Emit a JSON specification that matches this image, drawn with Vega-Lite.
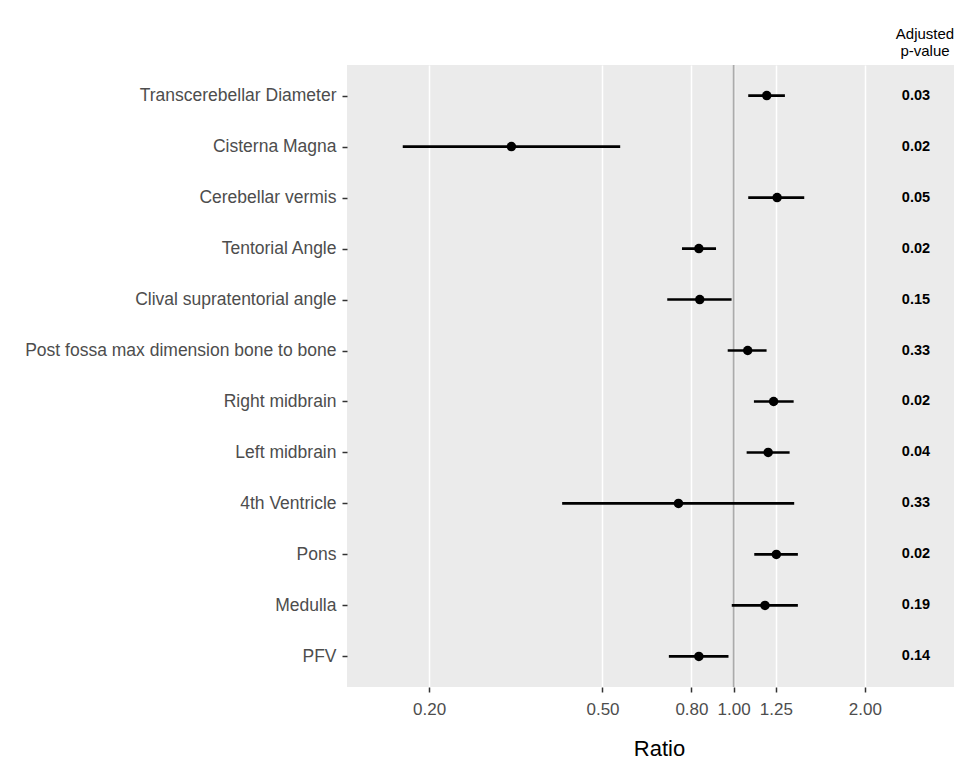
{
  "$schema": "https://vega.github.io/schema/vega-lite/v6.json",
  "autosize": {"type": "none"},
  "width": 624,
  "height": 622,
  "padding": {"left": 347, "top": 65, "right": 0, "bottom": 75},
  "background": "white",
  "title": {
    "text": ["Adjusted", "p-value"],
    "anchor": "end",
    "align": "center",
    "dx": -46,
    "fontSize": 15,
    "fontWeight": "normal",
    "color": "black",
    "offset": 5,
    "lineHeight": 17,
    "frame": "group"
  },
  "config": {
    "font": "Liberation Sans",
    "view": {"fill": "#ebebeb", "stroke": null},
    "axisX": {
      "grid": true,
      "gridColor": "white",
      "gridWidth": 1.5,
      "domain": false,
      "tickColor": "#333333",
      "tickSize": 5,
      "tickWidth": 1.5,
      "labelFontSize": 17,
      "labelColor": "#4d4d4d",
      "labelPadding": 9,
      "titleFontSize": 22,
      "titleFontWeight": "normal",
      "titleColor": "black",
      "titlePadding": 21
    },
    "axisY": {
      "grid": false,
      "domain": false,
      "tickColor": "#333333",
      "tickSize": 5,
      "tickWidth": 1.5,
      "labelFontSize": 17.5,
      "labelColor": "#4d4d4d",
      "labelPadding": 6,
      "labelLimit": 0
    }
  },
  "data": {
    "values": [
      {"measure": "Transcerebellar Diameter", "ratio": 1.191, "lo": 1.080, "hi": 1.311, "pval": "0.03"},
      {"measure": "Cisterna Magna", "ratio": 0.309, "lo": 0.174, "hi": 0.549, "pval": "0.02"},
      {"measure": "Cerebellar vermis", "ratio": 1.258, "lo": 1.080, "hi": 1.452, "pval": "0.05"},
      {"measure": "Tentorial Angle", "ratio": 0.832, "lo": 0.761, "hi": 0.911, "pval": "0.02"},
      {"measure": "Clival supratentorial angle", "ratio": 0.836, "lo": 0.704, "hi": 0.989, "pval": "0.15"},
      {"measure": "Post fossa max dimension bone to bone", "ratio": 1.077, "lo": 0.969, "hi": 1.190, "pval": "0.33"},
      {"measure": "Right midbrain", "ratio": 1.235, "lo": 1.113, "hi": 1.373, "pval": "0.02"},
      {"measure": "Left midbrain", "ratio": 1.200, "lo": 1.071, "hi": 1.344, "pval": "0.04"},
      {"measure": "4th Ventricle", "ratio": 0.747, "lo": 0.404, "hi": 1.377, "pval": "0.33"},
      {"measure": "Pons", "ratio": 1.253, "lo": 1.115, "hi": 1.404, "pval": "0.02"},
      {"measure": "Medulla", "ratio": 1.180, "lo": 0.990, "hi": 1.404, "pval": "0.19"},
      {"measure": "PFV", "ratio": 0.832, "lo": 0.710, "hi": 0.973, "pval": "0.14"}
    ]
  },
  "layer": [
    {
      "data": {"values": [{"ref": 1}]},
      "mark": {"type": "rule", "color": "#ababab", "strokeWidth": 1.8},
      "encoding": {
        "x": {"field": "ref", "type": "quantitative", "title": "Ratio",
              "scale": {"type": "log", "domain": [0.1296, 3.505], "nice": false, "zero": false},
              "axis": {"values": [0.2, 0.5, 0.8, 1, 1.25, 2], "format": ".2f"}}
      }
    },
    {
      "mark": {"type": "rule", "color": "black", "strokeWidth": 2.7},
      "encoding": {
        "x": {"field": "lo", "type": "quantitative", "title": "Ratio"},
        "x2": {"field": "hi"},
        "y": {"field": "measure", "type": "nominal", "sort": null, "title": null,
              "scale": {"type": "point", "padding": 0.6}}
      }
    },
    {
      "mark": {"type": "point", "filled": true, "color": "black", "opacity": 1, "size": 90},
      "encoding": {
        "x": {"field": "ratio", "type": "quantitative", "title": "Ratio"},
        "y": {"field": "measure", "type": "nominal", "sort": null, "title": null}
      }
    },
    {
      "mark": {"type": "text", "color": "black", "fontSize": 14.5, "fontWeight": "bold", "align": "center", "baseline": "middle"},
      "encoding": {
        "x": {"datum": 2.62, "type": "quantitative"},
        "y": {"field": "measure", "type": "nominal", "sort": null, "title": null},
        "text": {"field": "pval"}
      }
    }
  ]
}
